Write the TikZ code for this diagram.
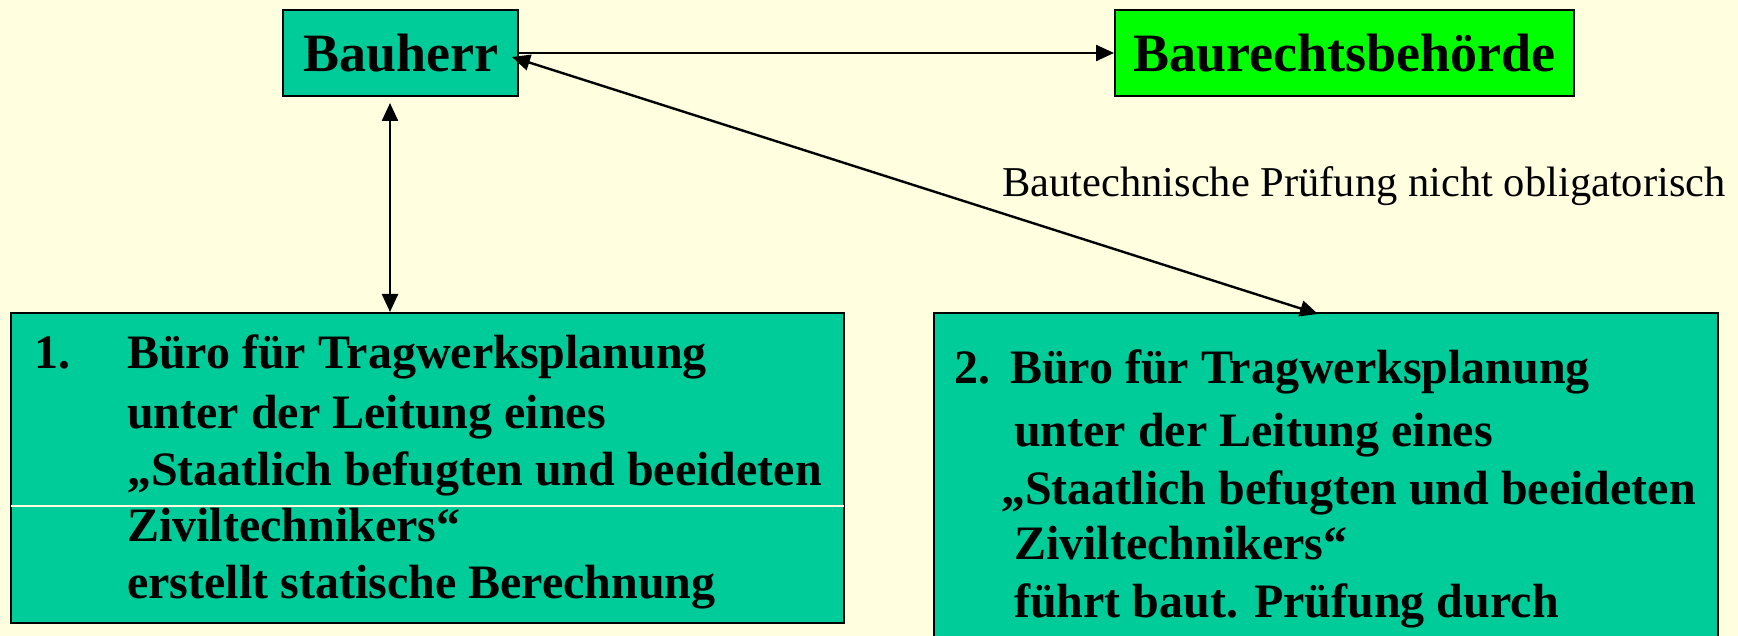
\documentclass[tikz,border=0pt]{standalone}
\usepackage{fontspec}
\setmainfont{Liberation Serif}
\usetikzlibrary{arrows.meta}
\definecolor{bgyellow}{HTML}{FFFFE0}
\definecolor{teal}{HTML}{00CC99}
\definecolor{brightgreen}{HTML}{00FF00}
\tikzset{
  box/.style={draw=black, line width=2pt, inner sep=0pt, rectangle},
  toplabel/.style={font=\fontsize{54}{60}\selectfont\bfseries},
  boxline/.style={anchor=base west, inner sep=0pt, font=\fontsize{48}{57}\selectfont\bfseries},
  conn/.style={line width=2.4pt, black},
  tip/.style={-{Triangle[length=18pt,width=16pt]}},
  dtip/.style={{Triangle[length=18pt,width=16pt]}-{Triangle[length=18pt,width=16pt]}}
}
\begin{document}
\begin{tikzpicture}[x=1pt,y=-1pt]
\useasboundingbox[fill=bgyellow] (0,0) rectangle (1738,636);
% boxes
\node[box, fill=teal, minimum width=235pt, minimum height=86pt, toplabel] (bau) at (400.5,53) {Bauherr};
\node[box, fill=brightgreen, minimum width=459pt, minimum height=86pt, toplabel] (beh) at (1344.5,53) {Baurechtsbehörde};
\node[box, fill=teal, minimum width=833pt, minimum height=310pt] (b1) at (427.5,468) {};
\node[box, fill=teal, minimum width=784pt, minimum height=340pt] (b2) at (1326,483) {};
% thin light line in left box
\coordinate (wl) at (0,506);
\draw[bgyellow, line width=1.6pt] ([xshift=1pt]b1.west |- wl) -- ([xshift=-1pt]b1.east |- wl);
% left box text
\node[boxline] (n1) at (34,369) {1.};
\node[boxline] (l11) at (127,369) {Büro für Tragwerksplanung};
\node[boxline] (l12) at (127,428) {unter der Leitung eines};
\node[boxline] (l13) at (127,485) {„Staatlich befugten und beeideten};
\node[boxline] (l14) at (127,541) {Ziviltechnikers“};
\node[boxline] (l15) at (127,598) {erstellt statische Berechnung};
% right box text
\node[boxline] (n2) at (954,384) {2.};
\node[boxline] (l21) at (1010,384) {Büro für Tragwerksplanung};
\node[boxline] (l22) at (1014,446) {unter der Leitung eines};
\node[boxline] (l23) at (1001,504) {„Staatlich befugten und beeideten};
\node[boxline] (l24) at (1014,559) {Ziviltechnikers“};
\node[boxline] (l25) at (1014,617) {führt baut. Prüfung durch};
% label
\node[anchor=base west, inner sep=0pt, font=\fontsize{42.5}{48}\selectfont] (lab) at (1002,197) {Bautechnische Prüfung nicht obligatorisch};
% connectors
\coordinate (h) at (0,53);
\draw[conn, tip] (bau.east |- h) -- (beh.west |- h);
\coordinate (vx) at (390,0);
\draw[conn, dtip, shorten <=6pt] (bau.south -| vx) -- (b1.north -| vx);
\coordinate (d1) at (512,57);
\coordinate (d2) at (1318,314);
\draw[conn, dtip] (d1) -- (d2);
\end{tikzpicture}
\end{document}
